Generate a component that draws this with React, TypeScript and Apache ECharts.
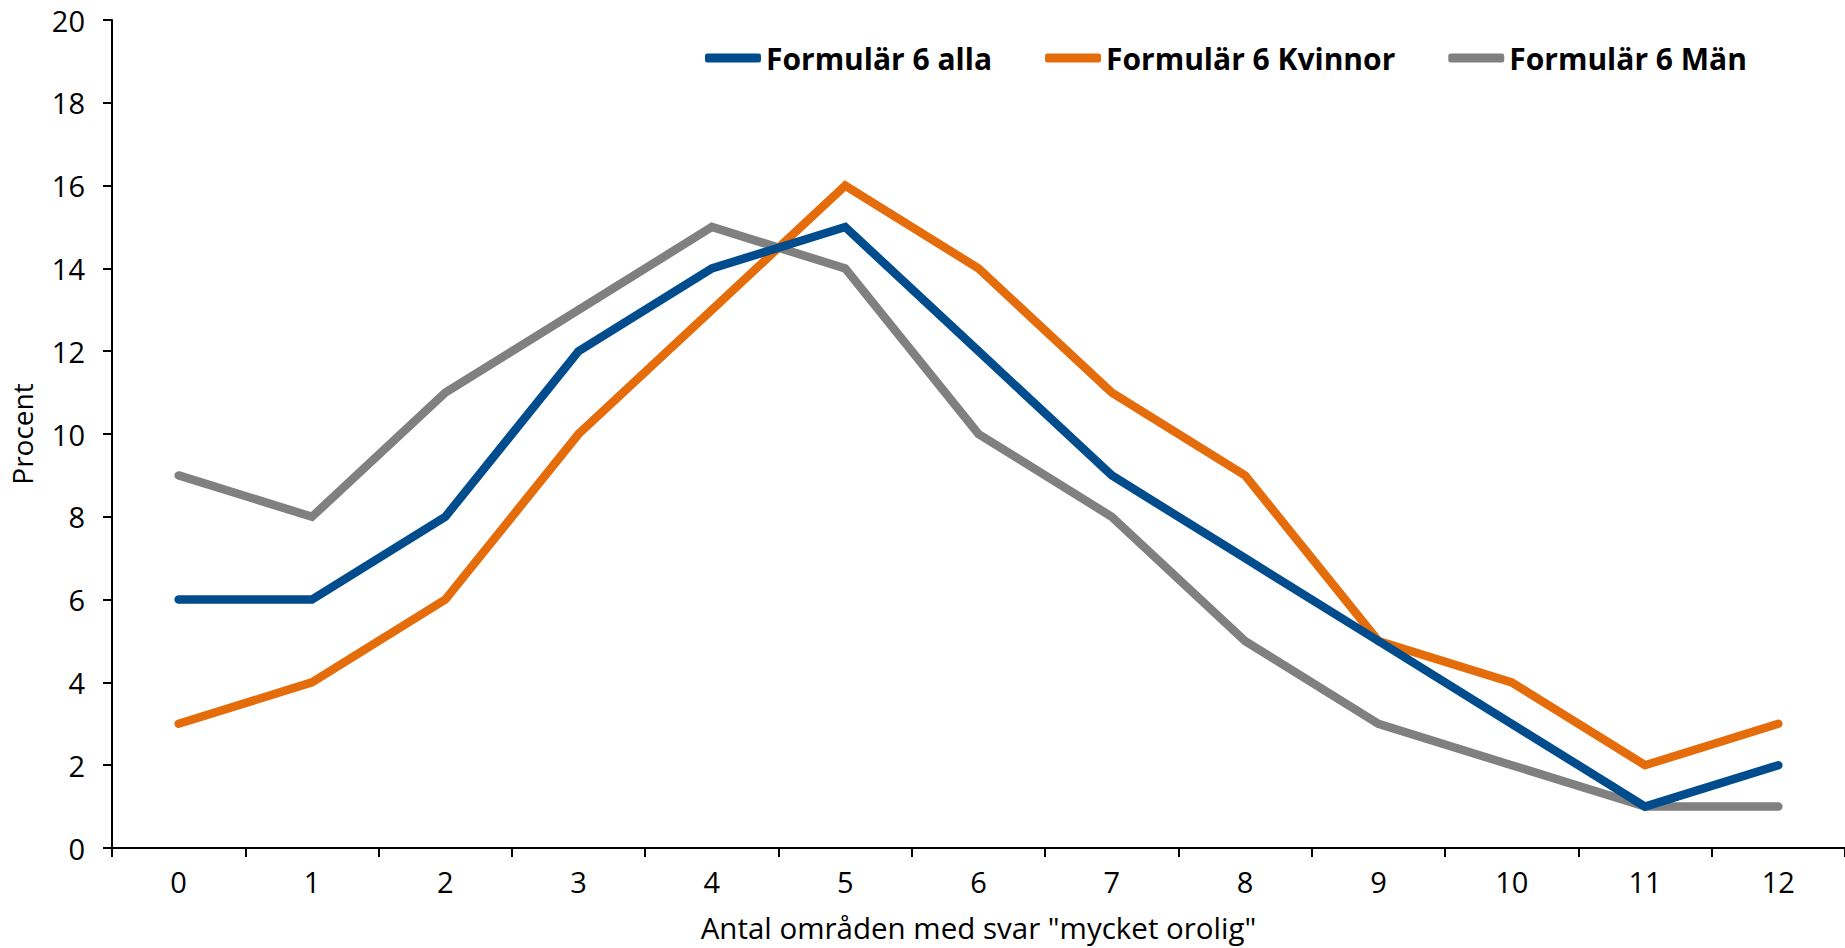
import React, { useEffect, useRef } from "react";
import * as echarts from "echarts";

const categories = ["0", "1", "2", "3", "4", "5", "6", "7", "8", "9", "10", "11", "12"];
const seriesNames = ["Formulär 6 alla", "Formulär 6 Kvinnor", "Formulär 6 Män"];
const alla = [6, 6, 8, 12, 14, 15, 12, 9, 7, 5, 3, 1, 2];
const kvinnor = [3, 4, 6, 10, 13, 16, 14, 11, 9, 5, 4, 2, 3];
const man = [9, 8, 11, 13, 15, 14, 10, 8, 5, 3, 2, 1, 1];
const colors = ["#004C8C", "#E46C0A", "#808080"];
const yAxisName = "Procent";
const xAxisName = 'Antal områden med svar "mycket orolig"';

export default function App() {
  const ref = useRef<HTMLDivElement>(null);
  useEffect(() => {
    if (!ref.current) return;
    const chart = echarts.init(ref.current, null, { renderer: "svg" });
    const font = "'Open Sans', 'Noto Sans', sans-serif";
    const datasets = [alla, kvinnor, man];
    chart.setOption({
      animation: false,
      textStyle: { fontFamily: font },
      legend: {
        left: 700,
        top: 38,
        itemWidth: 56,
        itemHeight: 9,
        itemGap: 53,
        icon: "roundRect",
        textStyle: { fontFamily: font, fontSize: 30, fontWeight: "bold", color: "#000" },
        data: seriesNames,
      },
      grid: { left: 112, right: -7, top: 20, bottom: 100, containLabel: false },
      xAxis: {
        type: "category",
        data: categories,
        boundaryGap: true,
        name: xAxisName,
        nameLocation: "middle",
        nameGap: 64,
        nameTextStyle: { fontSize: 29.5, color: "#000", fontFamily: font },
        axisLine: { lineStyle: { color: "#000", width: 2 } },
        axisTick: { show: true, length: 9, inside: false, lineStyle: { color: "#000", width: 2 }, alignWithLabel: false },
        axisLabel: { fontSize: 29, color: "#000", margin: 19, fontFamily: font },
        splitLine: { show: false },
      },
      yAxis: {
        type: "value",
        min: 0,
        max: 20,
        interval: 2,
        name: yAxisName,
        nameLocation: "middle",
        nameGap: 76,
        nameTextStyle: { fontSize: 28, color: "#000", fontFamily: font },
        axisLine: { show: true, lineStyle: { color: "#000", width: 2 } },
        axisTick: { show: true, length: 9, lineStyle: { color: "#000", width: 2 } },
        axisLabel: { fontSize: 29, color: "#000", margin: 27, fontFamily: font },
        splitLine: { show: false },
      },
      series: datasets.map((d, i) => ({
        name: seriesNames[i],
        type: "line",
        data: d,
        symbol: "none",
        color: colors[i],
        lineStyle: { width: 8.5, color: colors[i], cap: "round", join: "miter" },
        z: i === 1 ? 3 : i === 0 ? 4 : 2,
      })),
    });
    return () => chart.dispose();
  }, []);
  return (
    <div
      ref={ref}
      style={{ position: "fixed", left: 0, top: 0, width: 1845, height: 948, background: "#fff" }}
    />
  );
}
